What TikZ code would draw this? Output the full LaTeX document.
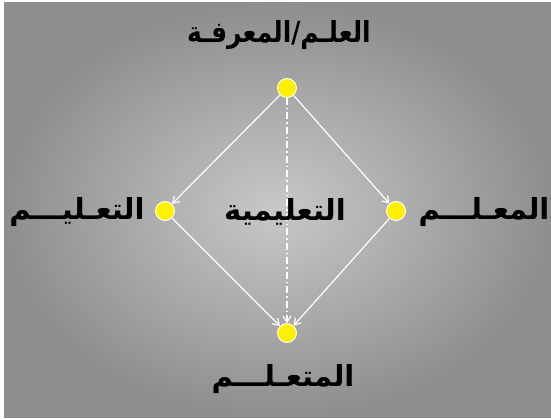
\documentclass[tikz,border=0pt]{standalone}
\usepackage{fontspec}
\newfontfamily\arabicfont[Script=Arabic]{DejaVu Sans}
\TeXXeTstate=1
\usetikzlibrary{arrows.meta}
\definecolor{bgmid}{RGB}{200,200,200}
\definecolor{bgedge}{RGB}{142,142,142}
\definecolor{dotyellow}{RGB}{255,240,0}
\tikzset{
  dot/.style={circle,fill=dotyellow,draw=white,line width=0.9pt,minimum size=19pt,inner sep=0pt},
  label/.style={font=\arabicfont\bfseries\fontsize{29}{32}\selectfont,text=black,inner sep=0pt},
  link/.style={draw=white,line width=1.2pt,-{Straight Barb[length=6pt,width=8pt,line width=1.2pt]}},
}
\begin{document}
\begin{tikzpicture}[x=1pt,y=-1pt]
  \useasboundingbox (0,0) rectangle (551,419);
  \fill[white] (0,0) rectangle (551,419);
  \shade[inner color=bgmid,outer color=bgedge] (4,3) rectangle (551,417);
  % the four corners of the didactic square
  \node[dot] (know) at (287,88) {};
  \node[dot] (teach) at (165,211) {};
  \node[dot] (teacher) at (396,211) {};
  \node[dot] (learner) at (287,333) {};
  % relations
  \draw[link] (know) -- (teach);
  \draw[link] (know) -- (teacher);
  \draw[link] (teach) -- (learner);
  \draw[link] (teacher) -- (learner);
  \draw[link,dash pattern=on 7pt off 3pt on 1.5pt off 3pt] (know) -- (learner);
  % labels
  \node[label,xscale=0.86,transform shape] (tknow) at (279,35) {\beginR العلـم/المعرفـة\endR};
  \node[label] (tteach) at (77,212) {\beginR التعـليـــم\endR};
  \node[label] (tteacher) at (484,212) {\beginR المعـلـــم\endR};
  \node[label] (tcentre) at (285,212) {\beginR التعليمية\endR};
  \node[label] (tlearner) at (283,379) {\beginR المتعـلـــم\endR};
\end{tikzpicture}
\end{document}
